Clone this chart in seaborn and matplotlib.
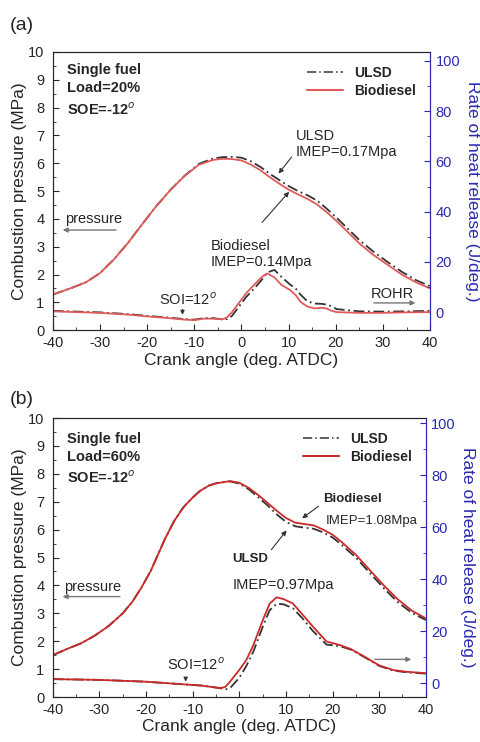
import numpy as np
import pandas as pd
import matplotlib
matplotlib.use("Agg")
import matplotlib.pyplot as plt
from matplotlib.lines import Line2D
from matplotlib.ticker import MultipleLocator
import seaborn as sns

sns.set_style("ticks")
plt.rcParams['font.family'] = ['Liberation Sans', 'DejaVu Sans']
plt.rcParams['axes.unicode_minus'] = False

# ---- panel (a): load 20% ----
a_p_angle = [-40, -36, -33, -30, -27, -24, -21, -18, -15, -12, -9, -6, -4, -2, 0, 2, 4, 6, 8, 10,
             12, 14, 16, 18, 20, 22, 25, 28, 31, 34, 37, 40]
a_p_bio = [1.28, 1.52, 1.72, 2.05, 2.55, 3.15, 3.82, 4.47, 5.05, 5.55, 5.95, 6.12, 6.16, 6.15, 6.1,
           5.95, 5.75, 5.5, 5.27, 5.05, 4.88, 4.72, 4.52, 4.25, 3.95, 3.62, 3.12, 2.7, 2.35, 2.0, 1.72, 1.5]
a_p_ulsd = [1.28, 1.52, 1.72, 2.05, 2.55, 3.15, 3.82, 4.47, 5.05, 5.56, 5.98, 6.17, 6.22, 6.23, 6.2,
            6.07, 5.87, 5.62, 5.4, 5.18, 5.0, 4.85, 4.66, 4.38, 4.07, 3.74, 3.24, 2.82, 2.45, 2.1, 1.8, 1.58]

a_r_angle = [-40, -30, -24, -20, -16, -12, -10, -8, -6, -4, -3, -2, 0, 1, 3, 4.5, 5.5, 7, 8.5, 10.3,
             11.5, 12.5, 14, 15.5, 17, 18, 19, 20.2, 25, 30, 35, 40]
a_r_bio = [0.3, -0.3, -1.0, -1.7, -2.3, -3.0, -3.2, -2.6, -2.6, -2.9, -2.0, 0.0, 5.0, 7.5, 11.5,
           14.3, 15.4, 13.8, 10.8, 8.8, 6.8, 4.1, 2.2, 1.5, 1.7, 1.5, 0.6, 0.0, -0.3, -0.3, -0.1, 0.0]
a_r_ulsd = [0.5, -0.1, -0.8, -1.5, -2.1, -2.8, -3.0, -2.4, -2.4, -2.9, -2.8, -1.5, 3.5, 6.0, 10.0,
            13.3, 15.8, 16.8, 14.0, 11.0, 9.4, 7.0, 4.3, 3.4, 3.3, 3.0, 2.4, 1.2, 0.3, 0.2, 0.3, 0.5]

# ---- panel (b): load 60% ----
b_p_angle = [-40, -37, -34, -31, -28, -25, -23, -21, -19, -17.5, -16, -14, -12, -10, -8.5, -6.5, -5, -2,
             0, 2, 4, 6, 8, 10, 12, 14, 16, 18, 20, 22, 25, 28, 31, 34, 37, 40]
b_p_bio = [1.5, 1.72, 1.92, 2.2, 2.55, 3.0, 3.4, 3.92, 4.52, 5.08, 5.65, 6.3, 6.8, 7.15, 7.38, 7.58,
           7.66, 7.74, 7.68, 7.5, 7.25, 6.97, 6.68, 6.42, 6.25, 6.2, 6.15, 6.0, 5.82, 5.55, 5.1, 4.55,
           4.0, 3.5, 3.1, 2.82]
b_p_ulsd = [1.5, 1.72, 1.92, 2.2, 2.55, 3.0, 3.4, 3.92, 4.52, 5.08, 5.65, 6.3, 6.8, 7.15, 7.38, 7.58,
            7.66, 7.73, 7.65, 7.45, 7.17, 6.88, 6.55, 6.28, 6.12, 6.07, 6.03, 5.9, 5.72, 5.45, 5.0,
            4.45, 3.9, 3.4, 3.02, 2.76]

b_r_angle = [-40, -30, -20, -12, -8, -4, -3, -2, 0, 1.5, 3, 5, 6.5, 8, 9.5, 11.5, 13.5, 15.8, 18.7,
             21.6, 24, 27, 30, 33, 36, 40]
b_r_bio = [1.5, 1.2, 0.5, -0.5, -1.0, -2.0, -1.5, 0.5, 5.0, 8.8, 14.5, 24.0, 30.5, 33.0, 32.3, 30.6,
           26.5, 21.7, 16.0, 14.6, 13.0, 10.0, 6.8, 5.0, 4.3, 3.8]
b_r_ulsd = [1.5, 1.2, 0.5, -0.5, -1.0, -2.0, -2.5, -2.0, 2.0, 6.5, 12.0, 21.5, 28.0, 30.5, 30.3, 28.8,
            25.0, 20.0, 14.8, 14.2, 12.8, 9.8, 6.6, 4.8, 4.1, 3.6]

fuels = ['ULSD', 'Biodiesel']
BLUE = '#2a2ab0'
GRAY = '#333333'


def to_df(angle, ulsd, bio):
    return pd.concat([
        pd.DataFrame({'angle': angle, 'val': ulsd, 'fuel': 'ULSD'}),
        pd.DataFrame({'angle': angle, 'val': bio, 'fuel': 'Biodiesel'}),
    ], ignore_index=True)


def style_axes(ax, ax2, rlim):
    ax.set_xlim(-40, 40)
    ax.set_ylim(0, 10)
    ax.xaxis.set_major_locator(MultipleLocator(10))
    ax.xaxis.set_minor_locator(MultipleLocator(5))
    ax.yaxis.set_major_locator(MultipleLocator(1))
    ax.yaxis.set_minor_locator(MultipleLocator(0.5))
    ax.tick_params(which='both', direction='in', labelsize=10.5, right=False, top=False)
    ax.tick_params(axis='x', pad=4)
    ax.tick_params(axis='y', pad=6)
    ax.tick_params(which='major', length=4)
    ax.tick_params(which='minor', length=2)
    ax.set_xlabel("Crank angle (deg. ATDC)", fontsize=12.5, labelpad=2)
    ax.set_ylabel("Combustion pressure (MPa)", fontsize=12.5, labelpad=1)
    for s in ax.spines.values():
        s.set_color(GRAY)
    ax2.set_ylim(*rlim)
    ax2.yaxis.set_major_locator(MultipleLocator(20))
    ax2.yaxis.set_minor_locator(MultipleLocator(10))
    ax2.tick_params(which='both', direction='in', colors=BLUE, labelsize=10.5, pad=4)
    ax2.tick_params(which='major', length=4)
    ax2.tick_params(which='minor', length=2)
    ax2.spines['right'].set_color(BLUE)
    ax2.set_ylabel("Rate of heat release (J/deg.)", fontsize=12.5, color=BLUE,
                   rotation=-90, labelpad=14)
    ax2.set_xlim(-40, 40)


def draw_panel(fig, rect, red, p_df, r_df, rlim):
    ax = fig.add_axes(rect)
    ax2 = ax.twinx()
    pal = {'ULSD': GRAY, 'Biodiesel': red}
    dashes = {'ULSD': (6, 2, 1, 2), 'Biodiesel': ''}
    for a, d in [(ax, p_df), (ax2, r_df)]:
        sns.lineplot(data=d, x='angle', y='val', hue='fuel', style='fuel', hue_order=fuels,
                     palette=pal, dashes=dashes, ax=a, linewidth=1.3, legend=False)
    style_axes(ax, ax2, rlim)
    handles = [Line2D([], [], color=GRAY, lw=1.1, dashes=(6, 2, 1, 2)),
               Line2D([], [], color=red, lw=1.5)]
    leg = ax.legend(handles, fuels, loc='upper right', frameon=False, fontsize=10,
                    handlelength=2.6, borderaxespad=0.6, labelspacing=0.3)
    for t in leg.get_texts():
        t.set_fontweight('bold')
    return ax, ax2


def arrow(ax, tip, tail, color=GRAY, lw=0.8, ms=7):
    ax.annotate("", xy=tip, xytext=tail,
                arrowprops=dict(arrowstyle='-|>', color=color, lw=lw, mutation_scale=ms))


fig = plt.figure(figsize=(4.8, 7.42), dpi=100)

# (a)
ax, ax2 = draw_panel(fig, [0.110, 0.555, 0.786, 0.375], '#e05a5a',
                     to_df(a_p_angle, a_p_ulsd, a_p_bio),
                     to_df(a_r_angle, a_r_ulsd, a_r_bio), (-7.2, 103.6))
fig.text(0.02, 0.965, "(a)", fontsize=14, va='center')
ax.text(-37, 9.6, "Single fuel\nLoad=20%\nSOE=-12$^{o}$", fontsize=10.5, fontweight='bold',
        va='top', linespacing=1.4)
ax.text(11.5, 6.7, "ULSD\nIMEP=0.17Mpa", fontsize=10.5, va='center', linespacing=1.2)
arrow(ax, (7.5, 5.55), (11, 6.3))
ax.text(-6.5, 2.75, "Biodiesel\nIMEP=0.14Mpa", fontsize=10.5, va='center', linespacing=1.2)
arrow(ax, (10.5, 5.05), (4, 3.8))
ax.text(-37.5, 4.0, "pressure", fontsize=10.5, va='center')
arrow(ax, (-38.5, 3.6), (-26, 3.6), color='#777777', lw=1.0)
ax.text(-17.5, 1.1, "SOI=12$^{o}$", fontsize=10.5, va='center')
arrow(ax, (-12.5, 0.45), (-12.5, 0.85), ms=6)
ax.text(27.5, 1.3, "ROHR", fontsize=10.5, va='center')
arrow(ax, (37.5, 0.98), (27.5, 0.98), color='#777777', lw=1.0)

# (b)
ax, ax2 = draw_panel(fig, [0.110, 0.0606, 0.777, 0.376], '#cc2a2a',
                     to_df(b_p_angle, b_p_ulsd, b_p_bio),
                     to_df(b_r_angle, b_r_ulsd, b_r_bio), (-5.4, 102))
fig.text(0.02, 0.462, "(b)", fontsize=14, va='center')
ax.text(-37, 9.5, "Single fuel\nLoad=60%\nSOE=-12$^{o}$", fontsize=10.5, fontweight='bold',
        va='top', linespacing=1.4)
ax.text(18, 7.1, "Biodiesel", fontsize=9.5, fontweight='bold', va='center')
ax.text(18.5, 6.3, "IMEP=1.08Mpa", fontsize=9.5, va='center')
arrow(ax, (13, 6.35), (17.5, 6.9))
ax.text(-1.5, 4.95, "ULSD", fontsize=9.5, fontweight='bold', va='center')
ax.text(-1.5, 4.0, "IMEP=0.97Mpa", fontsize=10.5, va='center')
arrow(ax, (10.5, 6.05), (6.5, 5.2))
ax.text(-37.5, 3.95, "pressure", fontsize=10.5, va='center')
arrow(ax, (-38.5, 3.6), (-25, 3.6), color='#777777', lw=1.0)
ax.text(-15.5, 1.15, "SOI=12$^{o}$", fontsize=10.5, va='center')
arrow(ax, (-11.5, 0.45), (-11.5, 0.8), ms=6)
arrow(ax, (37.5, 1.35), (28.5, 1.35), color='#777777', lw=1.0)

fig.savefig("out.png", dpi=100)
